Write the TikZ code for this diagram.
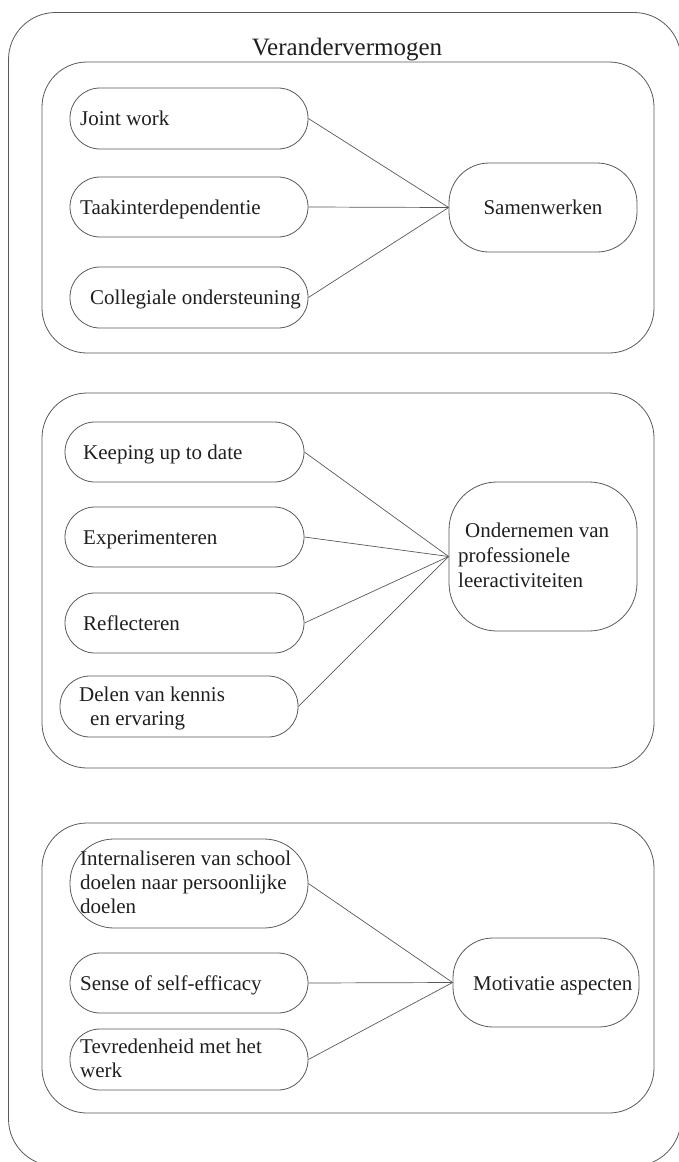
\documentclass[tikz,border=0pt]{standalone}
\usepackage{fontspec}
\setmainfont{Liberation Serif}
\begin{document}
\begin{tikzpicture}[x=1pt,y=1pt,
  frame/.style={draw=black!65, line width=0.8pt, rounded corners=#1},
  pill/.style={draw=black!65, line width=0.8pt, rectangle, rounded corners=#1, inner sep=0pt},
  pill/.default=30pt,
  txt/.style={font=\fontsize{21}{24}\selectfont, text=black!88, inner sep=0pt, align=left},
  link/.style={draw=black!65, line width=0.7pt}]
\useasboundingbox (0,0) rectangle (679,-1162);
\clip (0,0) rectangle (679,-1162);

% outer frame and title
\draw[frame=47pt] (8.5,-12.5) rectangle (681,-1166);
\node[font=\fontsize{25}{30}\selectfont, text=black!88, inner sep=0pt, anchor=base] (title) at (347,-55) {Verandervermogen};

% ---- block 1: Samenwerken ----
\draw[frame=45pt] (42,-62) rectangle (654,-353);
\node[pill, minimum width=238pt, minimum height=61pt] (jw) at (189,-118.5) {};
\node[txt, anchor=base west] (jwt) at (80,-125.5) {Joint work};
\node[pill, minimum width=238pt, minimum height=60pt] (taak) at (189,-207) {};
\node[txt, anchor=base west] (taakt) at (80,-214) {Taakinterdependentie};
\node[pill, minimum width=238pt, minimum height=61pt] (coll) at (189,-297.5) {};
\node[txt, anchor=base west] (collt) at (90,-304.5) {Collegiale ondersteuning};
\node[pill=40pt, txt, minimum width=188pt, minimum height=89pt] (sam) at (543,-207.5) {Samenwerken};
\draw[link] (jw.east) -- (sam.west);
\draw[link] (taak.east) -- (sam.west);
\draw[link] (coll.east) -- (sam.west);

% ---- block 2: professionele leeractiviteiten ----
\draw[frame=45pt] (42,-393) rectangle (654,-768);
\node[pill, minimum width=239pt, minimum height=60pt] (keep) at (184.5,-452) {};
\node[txt, anchor=base west] (keept) at (83,-459) {Keeping up to date};
\node[pill, minimum width=239pt, minimum height=60pt] (exp) at (184.5,-537) {};
\node[txt, anchor=base west] (expt) at (83,-544) {Experimenteren};
\node[pill, minimum width=239pt, minimum height=60pt] (refl) at (184.5,-623) {};
\node[txt, anchor=base west] (reflt) at (83,-630) {Reflecteren};
\node[pill, minimum width=238pt, minimum height=61pt] (delen) at (179,-706.5) {};
\node[txt, anchor=base west, font=\fontsize{21}{23.5}\selectfont] (delent) at (79,-725) {Delen van kennis\\\hspace*{11pt}en ervaring};
\node[pill=48pt, minimum width=188pt, minimum height=149pt] (ond) at (543,-556.5) {};
\node[txt, anchor=base west, font=\fontsize{21}{25}\selectfont] (ondt) at (458,-587) {\hspace*{7pt}Ondernemen van\\professionele\\leeractiviteiten};
\draw[link] (keep.east) -- (ond.west);
\draw[link] (exp.east) -- (ond.west);
\draw[link] (refl.east) -- (ond.west);
\draw[link] (delen.east) -- (ond.west);

% ---- block 3: Motivatie aspecten ----
\draw[frame=45pt] (42,-823) rectangle (654,-1113);
\node[pill=44pt, minimum width=238pt, minimum height=89pt] (intern) at (189,-883.5) {};
\node[txt, anchor=base west] (internt) at (80,-913) {Internaliseren van school\\doelen naar persoonlijke\\doelen};
\node[pill, minimum width=238pt, minimum height=60pt] (sense) at (189,-983) {};
\node[txt, anchor=base west] (senset) at (80,-990) {Sense of self-efficacy};
\node[pill, minimum width=238pt, minimum height=61pt] (tev) at (189,-1059.5) {};
\node[txt, anchor=base west] (tevt) at (80,-1077) {Tevredenheid met het\\werk};
\node[pill=40pt, minimum width=186pt, minimum height=89pt] (mot) at (546,-982.5) {};
\node[txt, anchor=base west] (mott) at (473,-990) {Motivatie aspecten};
\draw[link] (intern.east) -- (mot.west);
\draw[link] (sense.east) -- (mot.west);
\draw[link] (tev.east) -- (mot.west);
\end{tikzpicture}
\end{document}
